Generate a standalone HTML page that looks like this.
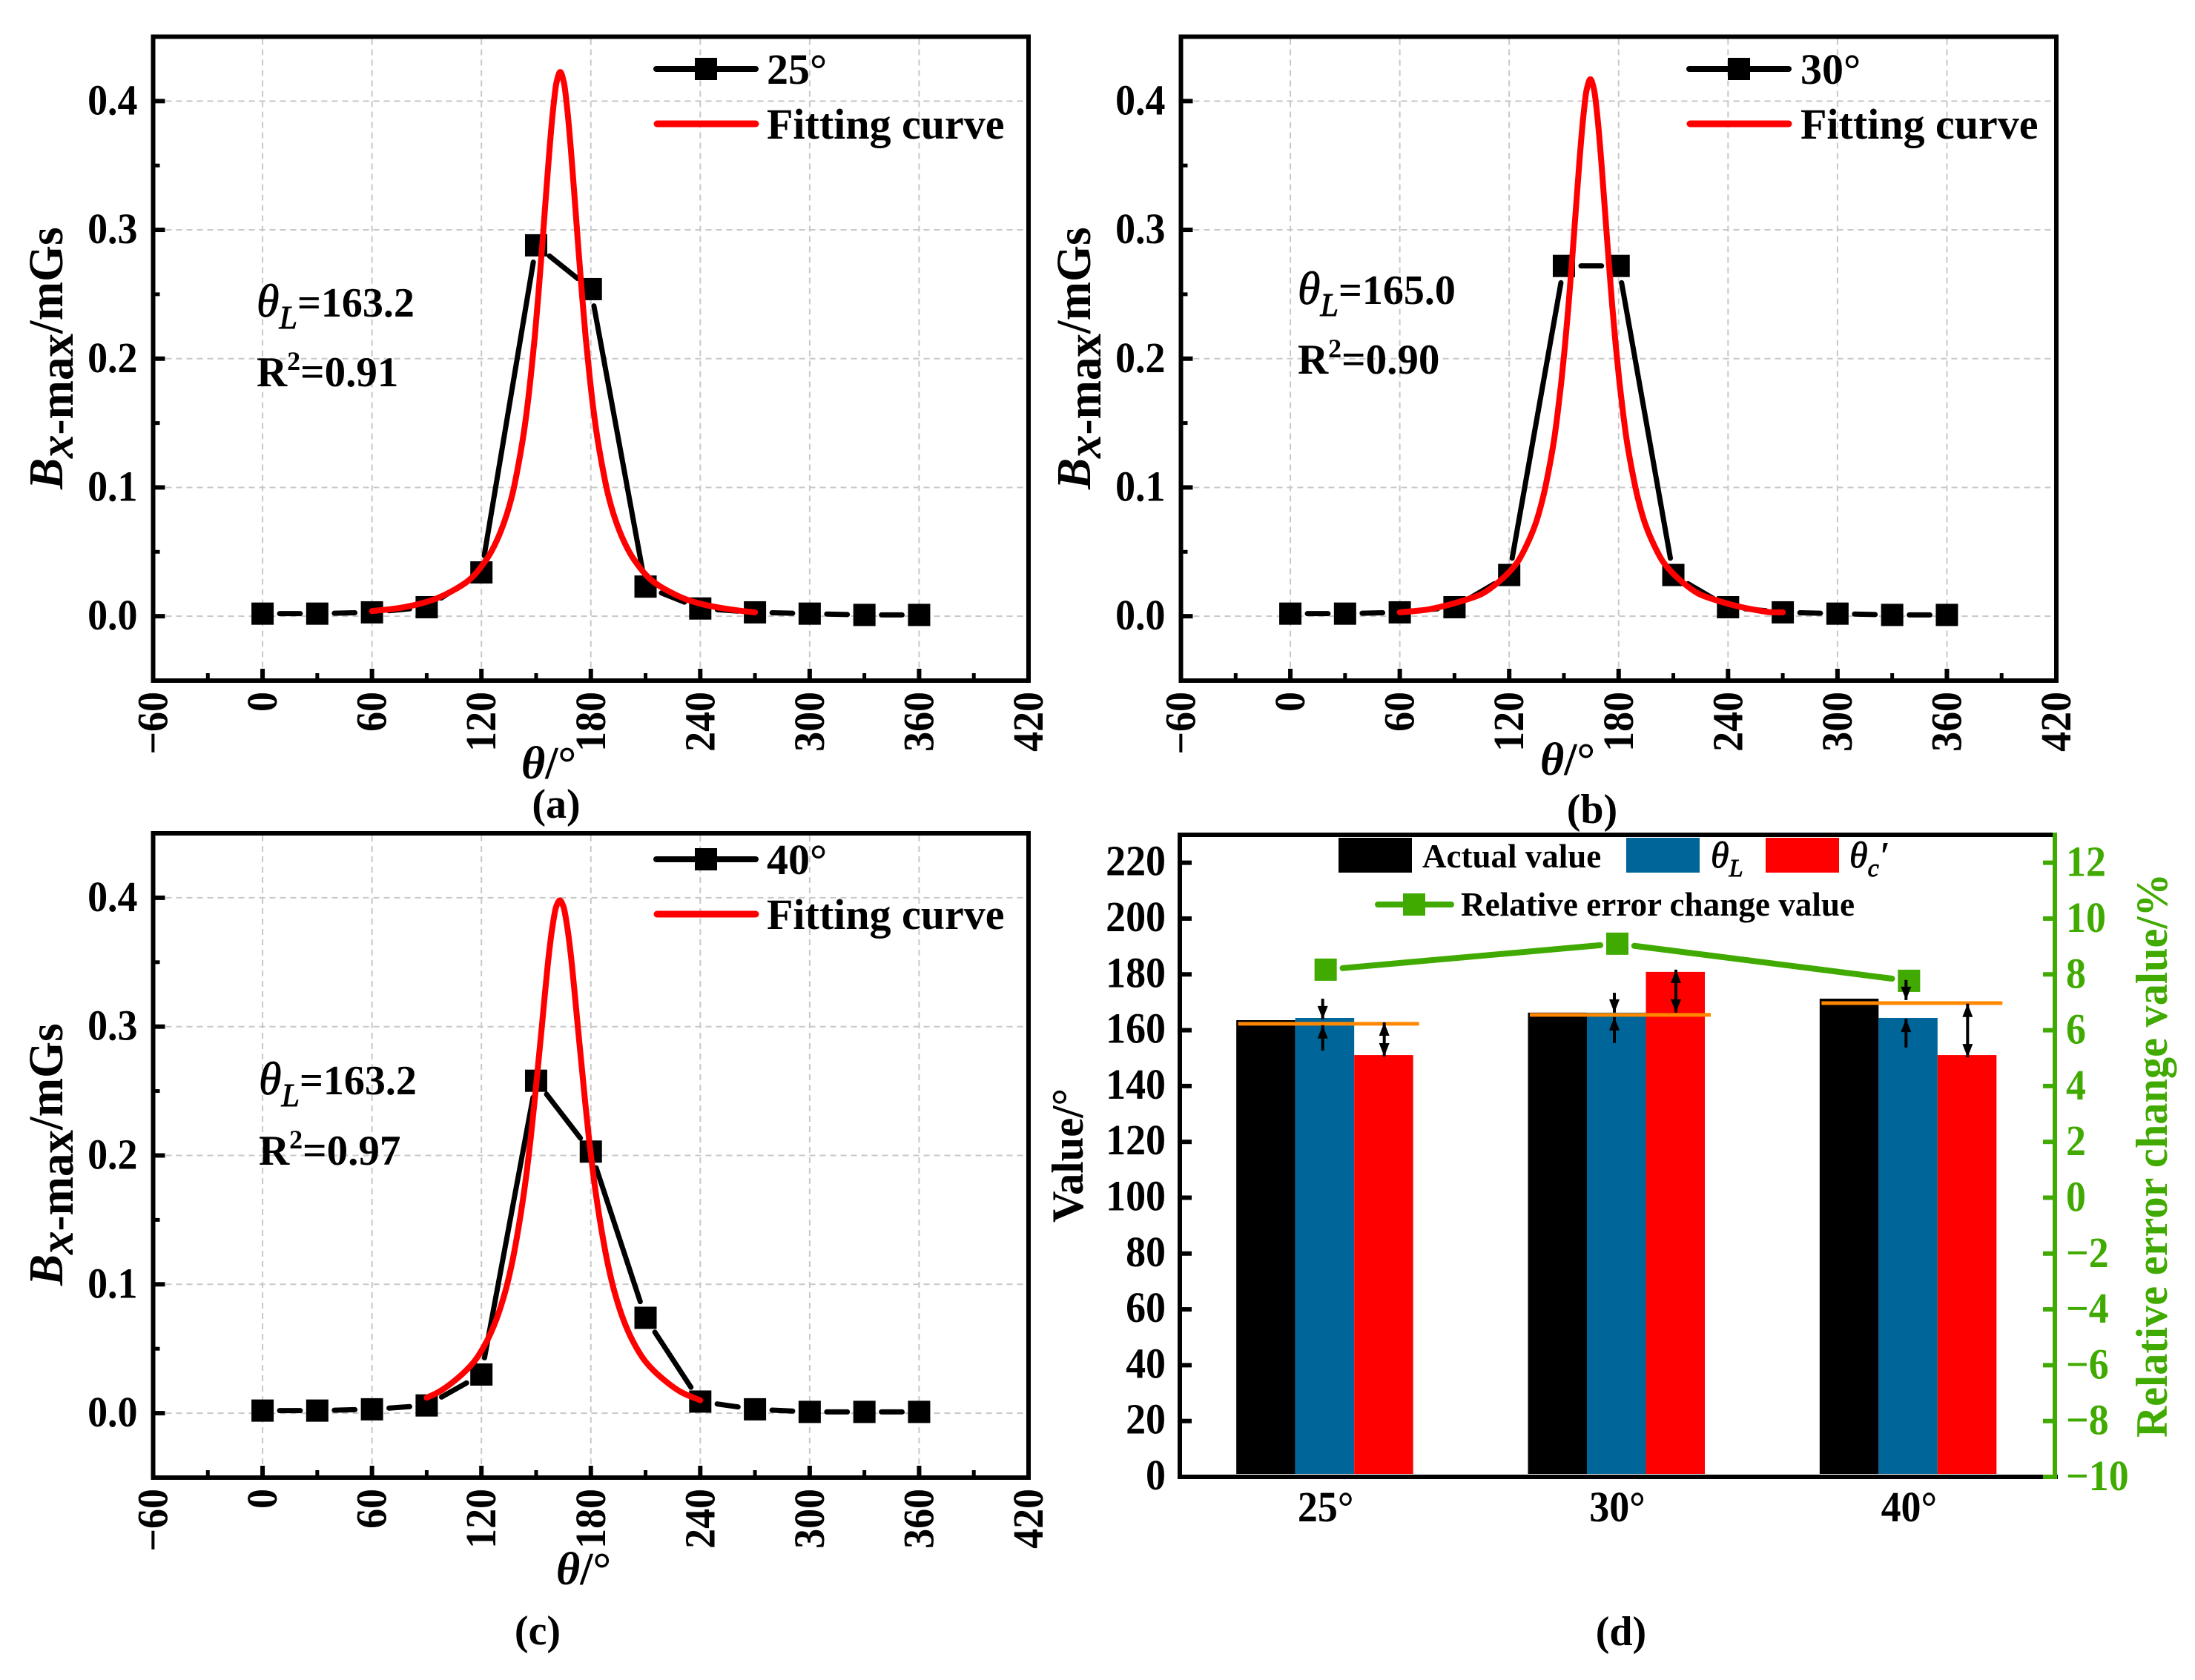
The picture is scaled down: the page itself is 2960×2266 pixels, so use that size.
<!DOCTYPE html>
<html lang="en">
<head>
<meta charset="utf-8">
<title>Bx-max versus theta panels and value comparison</title>
<style>
html,body{margin:0;padding:0;background:#fff;}
svg{display:block;}
text{font-family:"Liberation Serif",serif;font-weight:bold;fill:#000;}
.it{font-style:italic;font-weight:normal;stroke:#000;stroke-width:.9px;}
.bi{font-style:italic;font-weight:bold;}
.green{fill:#40aa00;}
</style>
</head>
<body>
<svg id="figure" xmlns="http://www.w3.org/2000/svg" width="2960" height="2266" viewBox="0 0 2960 2266">
<rect x="0" y="0" width="2960" height="2266" fill="#fff"/>
<g id="panel-a"></g>
<g id="panel-b"></g>
<g id="panel-c"></g>
<g id="panel-d"></g>

<!-- panel a text -->
<text transform="translate(84,660) rotate(-90) scale(.955,1)" font-size="66"><tspan class="bi">B</tspan><tspan class="bi" dy="14">x</tspan><tspan dy="0">-max</tspan><tspan dy="-14">/mGs</tspan></text>
<text x="703" y="1050" font-size="62"><tspan class="bi">θ</tspan>/°</text>
<text x="750" y="1103" font-size="56" text-anchor="middle">(a)</text>
<text x="346" y="427" font-size="56"><tspan class="it" font-size="62">θ</tspan><tspan class="it" font-size="44" dy="16">L</tspan><tspan dy="-16">=163.2</tspan></text>
<text x="346" y="521" font-size="57">R<tspan font-size="36" dy="-22">2</tspan><tspan dy="22">=0.91</tspan></text>
<line x1="885" y1="93" x2="1019" y2="93" stroke="#000" stroke-width="8" stroke-linecap="round"/>
<rect x="937" y="78" width="30" height="30" fill="#000"/>
<text x="1034" y="113" font-size="58">25°</text>
<line x1="886" y1="167" x2="1019" y2="167" stroke="#f00" stroke-width="9" stroke-linecap="round"/>
<text x="1034" y="187" font-size="58">Fitting curve</text>

<!-- panel b text -->
<text transform="translate(1470,660) rotate(-90) scale(.955,1)" font-size="66"><tspan class="bi">B</tspan><tspan class="bi" dy="14">x</tspan><tspan dy="0">-max</tspan><tspan dy="-14">/mGs</tspan></text>
<text x="2077" y="1045" font-size="62"><tspan class="bi">θ</tspan>/°</text>
<text x="2147" y="1110" font-size="56" text-anchor="middle">(b)</text>
<text x="1750" y="410" font-size="56"><tspan class="it" font-size="62">θ</tspan><tspan class="it" font-size="44" dy="16">L</tspan><tspan dy="-16">=165.0</tspan></text>
<text x="1750" y="504" font-size="57">R<tspan font-size="36" dy="-22">2</tspan><tspan dy="22">=0.90</tspan></text>
<line x1="2278" y1="93" x2="2412" y2="93" stroke="#000" stroke-width="8" stroke-linecap="round"/>
<rect x="2330" y="78" width="30" height="30" fill="#000"/>
<text x="2428" y="113" font-size="58">30°</text>
<line x1="2279" y1="167" x2="2412" y2="167" stroke="#f00" stroke-width="9" stroke-linecap="round"/>
<text x="2428" y="187" font-size="58">Fitting curve</text>

<!-- panel c text -->
<text transform="translate(84,1734) rotate(-90) scale(.955,1)" font-size="66"><tspan class="bi">B</tspan><tspan class="bi" dy="14">x</tspan><tspan dy="0">-max</tspan><tspan dy="-14">/mGs</tspan></text>
<text x="750" y="2137" font-size="62"><tspan class="bi">θ</tspan>/°</text>
<text x="725" y="2218" font-size="56" text-anchor="middle">(c)</text>
<text x="349" y="1476" font-size="56"><tspan class="it" font-size="62">θ</tspan><tspan class="it" font-size="44" dy="16">L</tspan><tspan dy="-16">=163.2</tspan></text>
<text x="349" y="1571" font-size="57">R<tspan font-size="36" dy="-22">2</tspan><tspan dy="22">=0.97</tspan></text>
<line x1="885" y1="1159" x2="1019" y2="1159" stroke="#000" stroke-width="8" stroke-linecap="round"/>
<rect x="937" y="1144" width="30" height="30" fill="#000"/>
<text x="1034" y="1179" font-size="58">40°</text>
<line x1="886" y1="1233" x2="1019" y2="1233" stroke="#f00" stroke-width="9" stroke-linecap="round"/>
<text x="1034" y="1253" font-size="58">Fitting curve</text>

<!-- panel d text -->
<text x="0" y="0" transform="translate(1460,1649) rotate(-90)" font-size="60" textLength="181" lengthAdjust="spacingAndGlyphs">Value/°</text>
<text class="green" x="0" y="0" transform="translate(2922,1939) rotate(-90)" font-size="60" textLength="761" lengthAdjust="spacingAndGlyphs">Relative error change value/%</text>
<text x="2186" y="2219" font-size="56" text-anchor="middle">(d)</text>
<rect x="1805" y="1130" width="99" height="47" fill="#000"/>
<text x="1918" y="1170" font-size="45">Actual value</text>
<rect x="2193" y="1130" width="99" height="47" fill="#006699"/>
<text x="2307" y="1170" font-size="50"><tspan class="it">θ</tspan><tspan class="it" font-size="34" dy="12">L</tspan></text>
<rect x="2381" y="1130" width="99" height="47" fill="#f00"/>
<text x="2494" y="1170" font-size="50"><tspan class="it">θ</tspan><tspan class="it" font-size="34" dy="12">c</tspan><tspan class="it" dy="-12">′</tspan></text>
<line x1="1858" y1="1220" x2="1957" y2="1220" stroke="#40aa00" stroke-width="8" stroke-linecap="round"/>
<rect x="1892" y="1205" width="30" height="30" fill="#40aa00"/>
<text x="1970" y="1235" font-size="46" textLength="531" lengthAdjust="spacingAndGlyphs">Relative error change value</text>
</svg>

<script>
// ---------- data for panels a, b, c ----------
const xTickValues = [-60, 0, 60, 120, 180, 240, 300, 360, 420];
const xMinorValues = [-30, 30, 90, 150, 210, 270, 330, 390];
const yTickValues = [0, 0.1, 0.2, 0.3, 0.4];
const yMinorValues = [0.05, 0.15, 0.25, 0.35];
const thetaAngles = [0, 30, 60, 90, 120, 150, 180, 210, 240, 270, 300, 330, 360];
const bxPanelA = [0.002, 0.002, 0.003, 0.007, 0.034, 0.288, 0.254, 0.023, 0.006, 0.003, 0.002, 0.001, 0.001];
const bxPanelB = [0.002, 0.002, 0.003, 0.007, 0.032, 0.272, 0.272, 0.032, 0.007, 0.003, 0.002, 0.001, 0.001];
const bxPanelC = [0.002, 0.002, 0.003, 0.006, 0.03, 0.258, 0.203, 0.074, 0.009, 0.003, 0.001, 0.001, 0.001];
const fitThetaA = [60,73.2,83.2,93.2,103.2,113.2,123.2,128.2,133.2,137.2,140.2,143.2,145.2,147.2,149.2,151.2,153.2,155.2,157.2,159.2,161.2,163.2,165.2,167.2,169.2,171.2,173.2,175.2,177.2,179.2,181.2,183.2,186.2,189.2,193.2,198.2,203.2,213.2,223.2,233.2,243.2,253.2,263.2,270];
const fitBxA = [.004,.006,.0086,.0126,.019,.028,.045,.058,.076,.096,.117,.142,.163,.188,.216,.249,.285,.323,.36,.392,.4146,.4226,.4146,.392,.36,.323,.285,.249,.216,.188,.163,.142,.117,.096,.076,.058,.045,.028,.019,.0126,.0086,.006,.004,.003];
const fitThetaB = [60,74.5,84.5,94.5,104.5,114.5,124.5,129.5,134.5,138.5,141.5,144.5,146.5,148.5,150.5,152.5,154.5,156.5,158.5,160.5,162.5,164.5,166.5,168.5,170.5,172.5,174.5,176.5,178.5,180.5,182.5,184.5,187.5,190.5,194.5,199.5,204.5,214.5,224.5,234.5,244.5,254.5,264.5,270];
const fitBxB = [.003,.005,.008,.012,.017,.027,.042,.055,.072,.092,.112,.136,.157,.181,.209,.241,.277,.315,.353,.386,.409,.417,.409,.386,.353,.315,.277,.241,.209,.181,.157,.136,.112,.092,.072,.055,.042,.027,.017,.012,.008,.005,.003,.003];
const fitThetaC = [90,96,106,116,123,128,133,137,140,143,145,147,149,151,153,155,157,159,161,163,165,167,169,171,173,175,177,179,181,183,186,189,193,198,203,210,220,230,240];
const fitBxC = [.012,.016,.026,.04,.056,.072,.094,.118,.141,.168,.189,.213,.24,.269,.298,.328,.356,.378,.393,.398,.393,.378,.356,.328,.298,.269,.24,.213,.189,.168,.141,.118,.094,.072,.056,.04,.026,.016,.010];

// ---------- data for panel d ----------
const barCategories = ['25°', '30°', '40°'];
const actualValues = [163.6, 166.3, 171.3];
const thetaLValues = [164.4, 166.3, 164.4];
const thetaCValues = [151.1, 180.9, 151.1];
const errorChangeValues = [8.17, 9.1, 7.77];
const referenceValues = [162.3, 165.5, 169.7];
const valueTicks = [0, 20, 40, 60, 80, 100, 120, 140, 160, 180, 200, 220];
const errorTicks = [-10, -8, -6, -4, -2, 0, 2, 4, 6, 8, 10, 12];
const arrowCategory = [0, 0, 0, 1, 1, 1, 2, 2, 2];
const arrowColumn = [0, 0, 1, 0, 0, 1, 0, 0, 1];
const arrowFromValue = [171.3, 152.7, 162.8, 173.4, 155.4, 181.7, 178, 153.8, 169.5];
const arrowToValue = [163.9, 161.8, 150.6, 166.3, 164.7, 166.3, 170.8, 164.1, 150.3];
const arrowIsDouble = [0, 0, 1, 0, 0, 1, 0, 0, 1];

// ---------- helpers ----------
const SVGNS = 'http://www.w3.org/2000/svg';
const GREEN = '#40aa00';
const TICK_FONT = 58;
const TICK_SQUEEZE = 0.93;
function mk(parent, tag, attrs, content) {
  const el = document.createElementNS(SVGNS, tag);
  for (const k in attrs) el.setAttribute(k, attrs[k]);
  if (content !== undefined) el.textContent = content;
  parent.appendChild(el);
  return el;
}
function fmtMinus(v) { return String(v).replace('-', '\u2212'); }
function curvePath(px, py) {
  const n = px.length, d = [], m = [];
  for (let i = 0; i < n - 1; i++) d.push((py[i + 1] - py[i]) / (px[i + 1] - px[i]));
  m[0] = d[0];
  m[n - 1] = d[n - 2];
  for (let i = 1; i < n - 1; i++) {
    if (d[i - 1] * d[i] <= 0) { m[i] = 0; continue; }
    const h0 = px[i] - px[i - 1], h1 = px[i + 1] - px[i];
    m[i] = (h0 + h1) * 3 / ((2 * h1 + h0) / d[i - 1] + (h1 + 2 * h0) / d[i]);
  }
  let s = 'M' + px[0].toFixed(2) + ' ' + py[0].toFixed(2);
  for (let i = 0; i < n - 1; i++) {
    const h = (px[i + 1] - px[i]) / 3;
    s += 'C' + (px[i] + h).toFixed(2) + ' ' + (py[i] + m[i] * h).toFixed(2) + ' ' +
      (px[i + 1] - h).toFixed(2) + ' ' + (py[i + 1] - m[i + 1] * h).toFixed(2) + ' ' +
      px[i + 1].toFixed(2) + ' ' + py[i + 1].toFixed(2);
  }
  return s;
}

// ---------- panels a, b, c ----------
function drawLinePanel(id, L, R, T, B, bx, fitX, fitY) {
  const g = document.getElementById(id);
  const fx = v => L + (v + 60) * (R - L) / 480;
  const fy = v => B - (v + 0.05) * (B - T) / 0.5;

  xTickValues.slice(1, -1).forEach(v => {
    const el = mk(g, 'line', {x1: fx(v), x2: fx(v), y1: T + 3, y2: B - 3, stroke: '#c8c8c8', 'stroke-width': 2, 'stroke-dasharray': '8 6'});
    
    
  });
  yTickValues.forEach(v => {
    const el = mk(g, 'line', {x1: L + 3, x2: R - 3, y1: fy(v), y2: fy(v), stroke: '#c8c8c8', 'stroke-width': 2, 'stroke-dasharray': '8 6'});
    
    
  });

  const frame = mk(g, 'rect', {x: L, y: T, width: R - L, height: B - T, fill: 'none', stroke: '#000', 'stroke-width': 6});
  
  

  xTickValues.forEach(v => {
    const t = mk(g, 'line', {x1: fx(v), x2: fx(v), y1: B, y2: B - 16, stroke: '#000', 'stroke-width': 6});
    
    
    const lab = mk(g, 'text', {transform: 'translate(' + (fx(v) + 19) + ',' + (B + 15) + ') rotate(-90) scale(' + TICK_SQUEEZE + ',1)', 'font-size': TICK_FONT, 'text-anchor': 'end'}, fmtMinus(v));
    
    
  });
  xMinorValues.forEach(v => {
    const t = mk(g, 'line', {x1: fx(v), x2: fx(v), y1: B, y2: B - 10, stroke: '#000', 'stroke-width': 5});
    
    
  });
  yTickValues.forEach(v => {
    const t = mk(g, 'line', {x1: L, x2: L + 16, y1: fy(v), y2: fy(v), stroke: '#000', 'stroke-width': 6});
    
    
    const lab = mk(g, 'text', {transform: 'translate(' + (L - 21) + ',' + (fy(v) + 18) + ') scale(' + TICK_SQUEEZE + ',1)', 'font-size': TICK_FONT, 'text-anchor': 'end'}, v.toFixed(1));
    
    
  });
  yMinorValues.forEach(v => {
    const t = mk(g, 'line', {x1: L, x2: L + 9, y1: fy(v), y2: fy(v), stroke: '#000', 'stroke-width': 5});
    
    
  });

  const GAP = 23;
  for (let i = 0; i < thetaAngles.length - 1; i++) {
    const x0 = fx(thetaAngles[i]), y0 = fy(bx[i]), x1 = fx(thetaAngles[i + 1]), y1 = fy(bx[i + 1]);
    const len = Math.hypot(x1 - x0, y1 - y0);
    if (len <= GAP * 2) continue;
    const ux = (x1 - x0) / len, uy = (y1 - y0) / len;
    const seg = mk(g, 'line', {x1: x0 + ux * GAP, y1: y0 + uy * GAP, x2: x1 - ux * GAP, y2: y1 - uy * GAP, stroke: '#000', 'stroke-width': 7, 'stroke-linecap': 'round'});
    
    
  }
  thetaAngles.forEach((a, i) => {
    const m = mk(g, 'rect', {x: fx(a) - 15, y: fy(bx[i]) - 15, width: 30, height: 30, fill: '#000'});
    
    
  });
  const fit = mk(g, 'path', {d: curvePath(fitX.map(fx), fitY.map(fy)), fill: 'none', stroke: '#f00', 'stroke-width': 8, 'stroke-linecap': 'round', 'stroke-linejoin': 'round'});
  
  
}
drawLinePanel('panel-a', 206.5, 1387, 49.5, 918, bxPanelA, fitThetaA, fitBxA);
drawLinePanel('panel-b', 1592.5, 2773, 49.5, 918, bxPanelB, fitThetaB, fitBxB);
drawLinePanel('panel-c', 206.5, 1387, 1124, 1993, bxPanelC, fitThetaC, fitBxC);

// ---------- panel d ----------
(function () {
  const g = document.getElementById('panel-d');
  const L = 1591, R = 2771, T = 1126, B = 1992;
  const band = (R - L) / barCategories.length;
  const cx = i => L + band * (i + 0.5);
  const fv = v => B - v * (B - T) / 230;
  const fe = v => B - (v + 10) * (B - T) / 23;
  const BAR = 79.5;
  const seriesList = [actualValues, thetaLValues, thetaCValues];
  const seriesColors = ['#000', '#006699', '#f00'];

  seriesList.forEach((vals, s) => {
    vals.forEach((v, i) => {
      const r = mk(g, 'rect', {x: cx(i) - 120.5 + s * BAR, y: fv(v), width: BAR, height: B - 4 - fv(v), fill: seriesColors[s]});
      
      
    });
  });

  const top = mk(g, 'line', {x1: L - 3, x2: R + 3, y1: T, y2: T, stroke: '#000', 'stroke-width': 6});
  
  
  const left = mk(g, 'line', {x1: L, x2: L, y1: T, y2: B + 3, stroke: '#000', 'stroke-width': 6});
  
  
  const bottom = mk(g, 'line', {x1: L, x2: R + 4, y1: B, y2: B, stroke: '#000', 'stroke-width': 6});
  
  
  const right = mk(g, 'line', {x1: R, x2: R, y1: T - 3, y2: B + 3, stroke: GREEN, 'stroke-width': 6});
  
  

  valueTicks.forEach(v => {
    const t = mk(g, 'line', {x1: L, x2: L + 16, y1: fv(v), y2: fv(v), stroke: '#000', 'stroke-width': 6});
    
    
    const lab = mk(g, 'text', {transform: 'translate(' + (L - 19) + ',' + (fv(v) + 17) + ') scale(' + TICK_SQUEEZE + ',1)', 'font-size': TICK_FONT, 'text-anchor': 'end'}, String(v));
    
    
  });
  errorTicks.forEach(v => {
    const t = mk(g, 'line', {x1: R, x2: R - 16, y1: fe(v), y2: fe(v), stroke: GREEN, 'stroke-width': 6});
    
    
    const lab = mk(g, 'text', {transform: 'translate(' + (R + 15) + ',' + (fe(v) + 18) + ') scale(' + TICK_SQUEEZE + ',1)', 'font-size': TICK_FONT, fill: GREEN, class: 'green'}, fmtMinus(v));
    
    
  });
  barCategories.forEach((c, i) => {
    const lab = mk(g, 'text', {transform: 'translate(' + (cx(i) + 0) + ',2052) scale(' + TICK_SQUEEZE + ',1)', 'font-size': TICK_FONT, 'text-anchor': 'middle'}, c);
    
    
  });

  referenceValues.forEach((v, i) => {
    const l = mk(g, 'line', {x1: cx(i) - 118, x2: cx(i) + 126, y1: fv(v), y2: fv(v), stroke: '#ff8800', 'stroke-width': 5});
    
    
  });

  const GAP = 23;
  for (let i = 0; i < errorChangeValues.length - 1; i++) {
    const x0 = cx(i), y0 = fe(errorChangeValues[i]), x1 = cx(i + 1), y1 = fe(errorChangeValues[i + 1]);
    const len = Math.hypot(x1 - x0, y1 - y0);
    const ux = (x1 - x0) / len, uy = (y1 - y0) / len;
    const seg = mk(g, 'line', {x1: x0 + ux * GAP, y1: y0 + uy * GAP, x2: x1 - ux * GAP, y2: y1 - uy * GAP, stroke: GREEN, 'stroke-width': 8, 'stroke-linecap': 'round'});
    
    
  }
  errorChangeValues.forEach((v, i) => {
    const m = mk(g, 'rect', {x: cx(i) - 15, y: fe(v) - 15, width: 30, height: 30, fill: GREEN});
    
    
  });

  function head(x, yTip, dir) {
    const p = mk(g, 'polygon', {points: (x - 7) + ',' + (yTip + dir * 18) + ' ' + x + ',' + yTip + ' ' + (x + 7) + ',' + (yTip + dir * 18), fill: '#000'});
    
    
  }
  arrowCategory.forEach((c, i) => {
    const x = cx(c) + arrowColumn[i] * 83 - 4;
    const y0 = fv(arrowFromValue[i]), y1 = fv(arrowToValue[i]);
    const shaft = mk(g, 'line', {x1: x, x2: x, y1: y0, y2: y1, stroke: '#000', 'stroke-width': 4});
    
    
    head(x, y1, y1 > y0 ? -1 : 1);
    if (arrowIsDouble[i]) head(x, y0, y1 > y0 ? 1 : -1);
  });
})();
</script>
</body>
</html>
